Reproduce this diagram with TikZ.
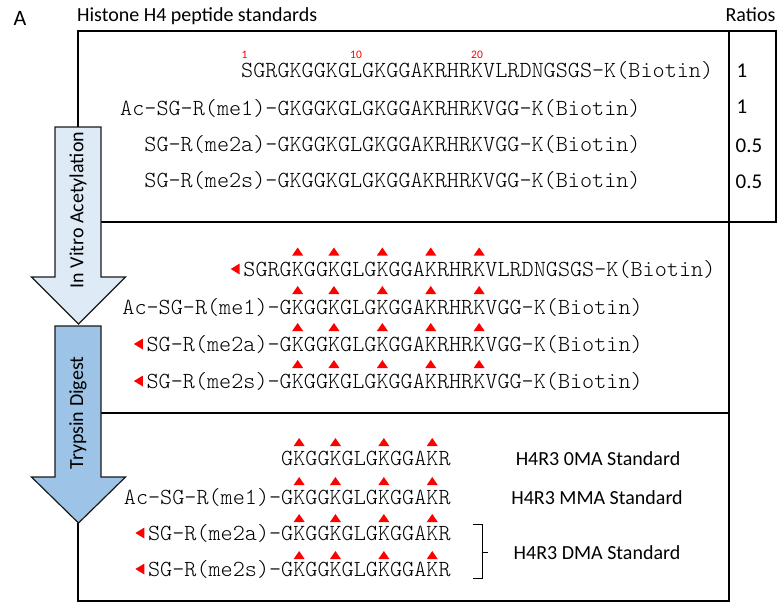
\documentclass[tikz,border=0pt]{standalone}
\usepackage{fontspec}
\setmainfont{Carlito}
\newfontfamily\seqfont{Latin Modern Mono Light}
\usepackage{tikz}
\usetikzlibrary{calc}

\definecolor{acetblue}{RGB}{222,235,247}
\definecolor{digestblue}{RGB}{157,195,230}
\newcommand{\cw}{12.1}

\begin{document}
\begin{tikzpicture}[x=1pt,y=-1pt,
  seq/.style={anchor=base west,inner sep=0pt,font=\fontsize{23.05}{23}\seqfont},
  lab/.style={anchor=base,inner sep=0pt,font=\fontsize{20}{20}\selectfont},
  resnum/.style={anchor=base west,inner sep=0pt,text=red,font=\fontsize{11.5}{11.5}\selectfont},
  frame/.style={line width=1.5pt},
  stage/.style={draw=black!90,line width=1.2pt},
  upsite/.pic={\fill[red] (-5.5,4) -- (5.5,4) -- (0,-4) -- cycle;},
  leftsite/.pic={\fill[red] (4.5,-5.5) -- (4.5,5.5) -- (-4.5,0) -- cycle;}]
\useasboundingbox (0,0) rectangle (778,603);

\node[font=\fontsize{22}{22}\selectfont] (panel) at (20,18.5) {A};
\node[lab,anchor=base west] (title) at (77,21) {Histone H4 peptide standards};
\node[lab] (ratiohead) at (750.5,21.5) {Ratios};

\draw[frame] (78,127) -- (78,31) -- (729,31) -- (729,601) -- (78,601) -- (78,523);
\draw[frame] (101,222) -- (776,222);
\draw[frame] (101,413) -- (729,413);
\draw[frame] (729,31) rectangle (776,222);

\draw[stage,fill=acetblue] (55,127) -- (101,127) -- (101,277) -- (125.5,277) -- (78.5,324)
  -- (31.5,277) -- (55,277) -- cycle;
\draw[stage,fill=digestblue] (55,326) -- (101,326) -- (101,477) -- (125.5,477) -- (78.5,523)
  -- (31.5,477) -- (55,477) -- cycle;
\node[lab,anchor=center,rotate=90] (acetyl) at (78,210) {In Vitro Acetylation};
\node[lab,anchor=center,rotate=90] (digest) at (78,413) {Trypsin Digest};

% standards
\node[resnum] (n1) at (241.5,58) {1};
\node[resnum] (n10) at (350,58) {10};
\node[resnum] (n20) at (471,58) {20};
\node[seq] (s1a) at (277.3-3*\cw,77.5) {SGRGKGGKGLGKGGAKRHRKVLRDNGSGS-K(Biotin)};
\node[seq] (s1b) at (277.3-13*\cw,115.5) {Ac-SG-R(me1)-GKGGKGLGKGGAKRHRKVGG-K(Biotin)};
\node[seq] (s1c) at (277.3-11*\cw,151.5) {SG-R(me2a)-GKGGKGLGKGGAKRHRKVGG-K(Biotin)};
\node[seq] (s1d) at (277.3-11*\cw,187.5) {SG-R(me2s)-GKGGKGLGKGGAKRHRKVGG-K(Biotin)};
\node[lab,font=\fontsize{21}{21}\selectfont] (r1) at (742,77) {1};
\node[lab,font=\fontsize{21}{21}\selectfont] (r2) at (742,113.5) {1};
\node[lab,font=\fontsize{21}{21}\selectfont] (r3) at (749,152) {0.5};
\node[lab,font=\fontsize{21}{21}\selectfont] (r4) at (749,188) {0.5};

% acetylated
\node[seq] (s2a) at (279.5-3*\cw,276) {SGRGKGGKGLGKGGAKRHRKVLRDNGSGS-K(Biotin)};
\node[seq] (s2b) at (279.5-13*\cw,314.5) {Ac-SG-R(me1)-GKGGKGLGKGGAKRHRKVGG-K(Biotin)};
\node[seq] (s2c) at (279.5-11*\cw,351) {SG-R(me2a)-GKGGKGLGKGGAKRHRKVGG-K(Biotin)};
\node[seq] (s2d) at (279.5-11*\cw,388) {SG-R(me2s)-GKGGKGLGKGGAKRHRKVGG-K(Biotin)};
\foreach \y in {251.5,290,327,364}
  \foreach \k in {1.5,4.5,8.5,12.5,16.5}
    \pic at (279.5+\k*\cw,\y) {upsite};
\pic at ($(s2a.base west)+(-8,-7)$) {leftsite};
\pic at ($(s2c.base west)+(-8,-7)$) {leftsite};
\pic at ($(s2d.base west)+(-8,-7)$) {leftsite};

% digested
\node[seq] (s3a) at (281,465.5) {GKGGKGLGKGGAKR};
\node[seq] (s3b) at (281-13*\cw,504.5) {Ac-SG-R(me1)-GKGGKGLGKGGAKR};
\node[seq] (s3c) at (281-11*\cw,540) {SG-R(me2a)-GKGGKGLGKGGAKR};
\node[seq] (s3d) at (281-11*\cw,576) {SG-R(me2s)-GKGGKGLGKGGAKR};
\foreach \y in {442,481,518,555}
  \foreach \k in {1.5,4.5,8.5,12.5}
    \pic at (281+\k*\cw,\y) {upsite};
\pic at ($(s3c.base west)+(-8,-7)$) {leftsite};
\pic at ($(s3d.base west)+(-8,-7)$) {leftsite};

\draw[line width=1pt] (473,524) -- (482,524) -- (482,578) -- (473,578);
\draw[line width=1pt] (482,552) -- (488,552);
\node[lab] (zero) at (598,465) {H4R3 0MA Standard};
\node[lab] (mono) at (597,504) {H4R3 MMA Standard};
\node[lab] (di) at (597,559) {H4R3 DMA Standard};
\end{tikzpicture}
\end{document}
